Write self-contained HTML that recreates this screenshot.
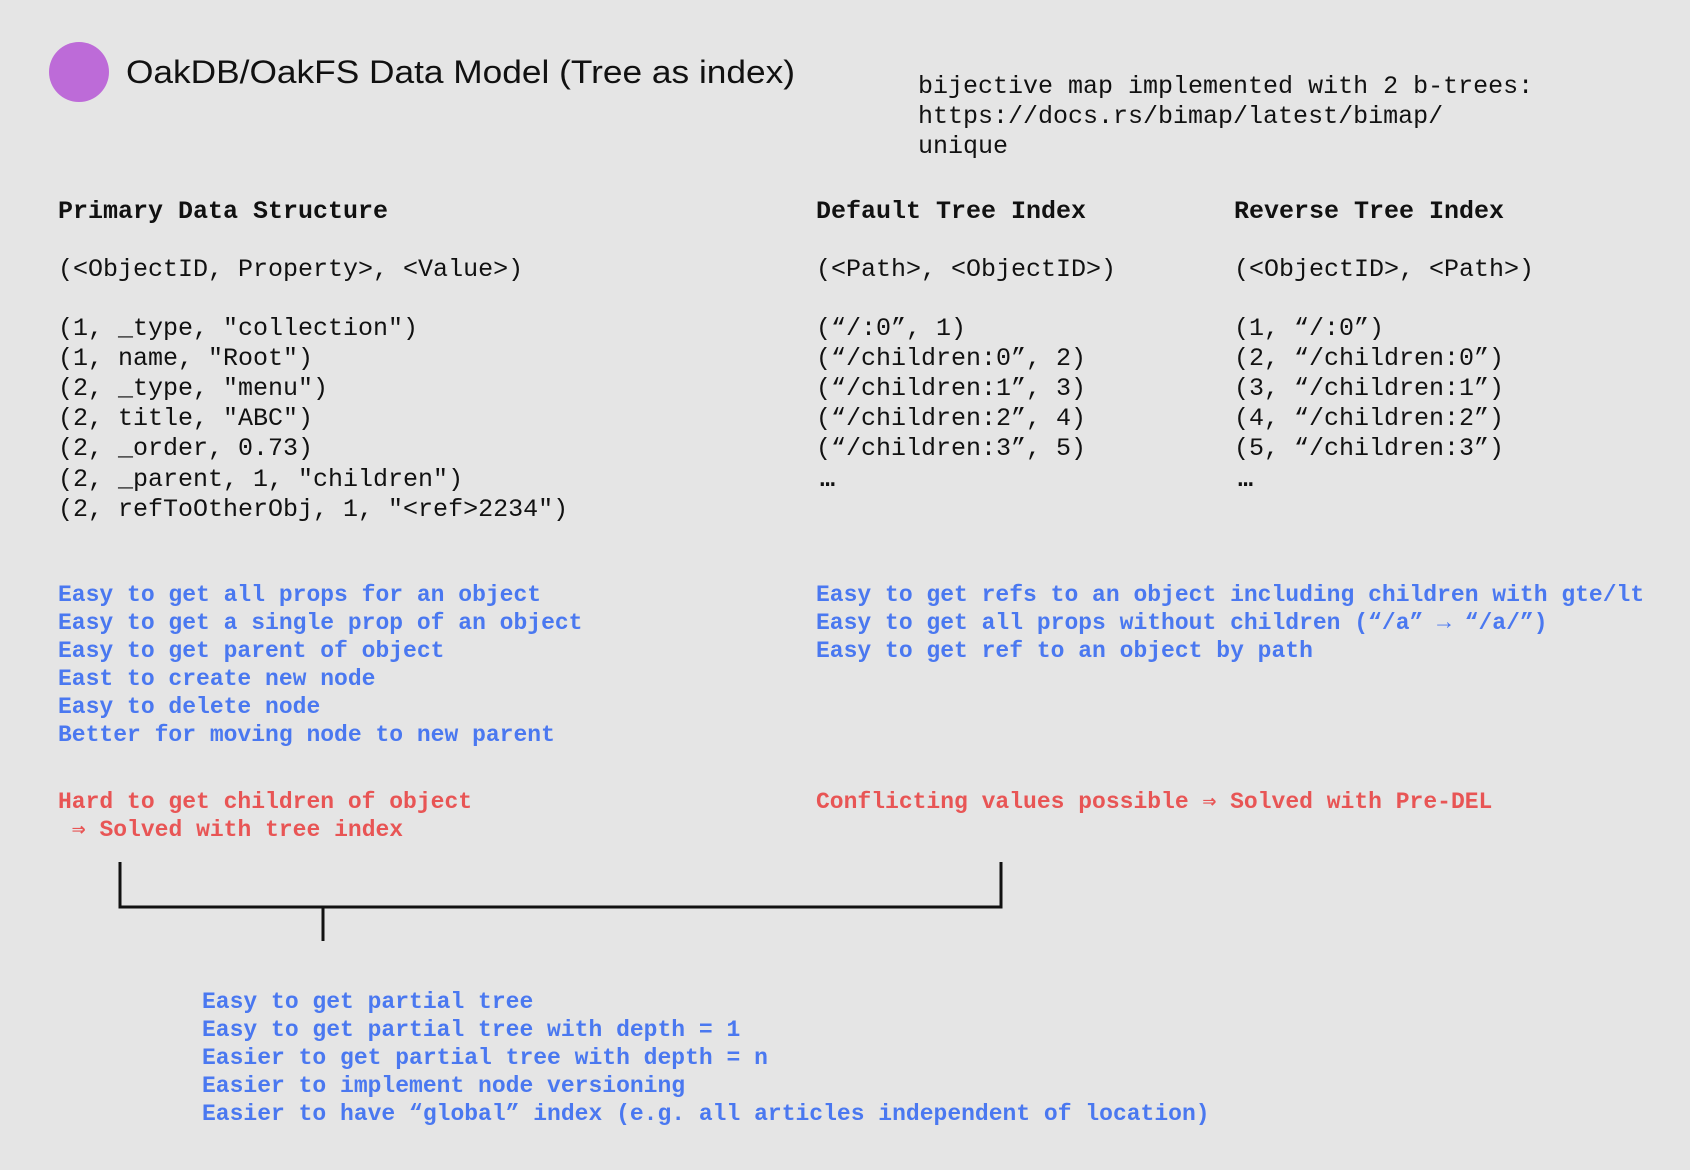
<!DOCTYPE html>
<html><head><meta charset="utf-8"><style>
html,body{margin:0;padding:0;background:#e5e5e5;}
svg{display:block}
.m{font-family:"Liberation Mono",monospace;font-size:25px;fill:#111;white-space:pre}
.h{font-weight:bold}
.b{font-family:"Liberation Mono",monospace;font-size:23px;fill:#4a78f0;font-weight:bold;white-space:pre}
.r{font-family:"Liberation Mono",monospace;font-size:23px;fill:#e85555;font-weight:bold;white-space:pre}
</style></head><body>
<svg width="1690" height="1170" xmlns="http://www.w3.org/2000/svg">
<rect width="1690" height="1170" fill="#e5e5e5"/>
<circle cx="79" cy="72" r="30" fill="#bd6bd8"/>
<text x="126" y="83" font-family="Liberation Sans, sans-serif" font-size="32" fill="#111" textLength="669" lengthAdjust="spacingAndGlyphs">OakDB/OakFS Data Model (Tree as index)</text>
<text class="m" x="918" y="93">bijective map implemented with 2 b-trees:</text>
<text class="m" x="918" y="123">https://docs.rs/bimap/latest/bimap/</text>
<text class="m" x="918" y="153">unique</text>
<text class="m h" x="58" y="218">Primary Data Structure</text>
<text class="m h" x="816" y="218">Default Tree Index</text>
<text class="m h" x="1234" y="218">Reverse Tree Index</text>
<text class="m" x="58" y="276">(&lt;ObjectID, Property&gt;, &lt;Value&gt;)</text>
<text class="m" x="816" y="276">(&lt;Path&gt;, &lt;ObjectID&gt;)</text>
<text class="m" x="1234" y="276">(&lt;ObjectID&gt;, &lt;Path&gt;)</text>
<g class="m">
<text class="m" x="58" y="335">(1, _type, "collection")</text>
<text class="m" x="58" y="365">(1, name, "Root")</text>
<text class="m" x="58" y="395">(2, _type, "menu")</text>
<text class="m" x="58" y="425">(2, title, "ABC")</text>
<text class="m" x="58" y="455">(2, _order, 0.73)</text>
<text class="m" x="58" y="486">(2, _parent, 1, "children")</text>
<text class="m" x="58" y="516">(2, refToOtherObj, 1, "&lt;ref&gt;2234")</text>
<text class="m" x="816" y="335">(“/:0”, 1)</text>
<text class="m" x="816" y="365">(“/children:0”, 2)</text>
<text class="m" x="816" y="395">(“/children:1”, 3)</text>
<text class="m" x="816" y="425">(“/children:2”, 4)</text>
<text class="m" x="816" y="455">(“/children:3”, 5)</text>
<text class="m h" x="820" y="486">…</text>
<text class="m" x="1234" y="335">(1, “/:0”)</text>
<text class="m" x="1234" y="365">(2, “/children:0”)</text>
<text class="m" x="1234" y="395">(3, “/children:1”)</text>
<text class="m" x="1234" y="425">(4, “/children:2”)</text>
<text class="m" x="1234" y="455">(5, “/children:3”)</text>
<text class="m h" x="1238" y="486">…</text>
</g>
<text class="b" x="58" y="601">Easy to get all props for an object</text>
<text class="b" x="58" y="629">Easy to get a single prop of an object</text>
<text class="b" x="58" y="657">Easy to get parent of object</text>
<text class="b" x="58" y="685">East to create new node</text>
<text class="b" x="58" y="713">Easy to delete node</text>
<text class="b" x="58" y="741">Better for moving node to new parent</text>
<text class="b" x="816" y="601">Easy to get refs to an object including children with gte/lt</text>
<text class="b" x="816" y="629">Easy to get all props without children (“/a” → “/a/”)</text>
<text class="b" x="816" y="657">Easy to get ref to an object by path</text>
<text class="r" x="58" y="808">Hard to get children of object</text>
<text class="r" x="58" y="836"> ⇒ Solved with tree index</text>
<text class="r" x="816" y="808">Conflicting values possible ⇒ Solved with Pre-DEL</text>
<path d="M120 862 V907 H1001 V862 M323 907 V941" fill="none" stroke="#111" stroke-width="3"/>
<text class="b" x="202" y="1008">Easy to get partial tree</text>
<text class="b" x="202" y="1036">Easy to get partial tree with depth = 1</text>
<text class="b" x="202" y="1064">Easier to get partial tree with depth = n</text>
<text class="b" x="202" y="1092">Easier to implement node versioning</text>
<text class="b" x="202" y="1120">Easier to have “global” index (e.g. all articles independent of location)</text>
</svg>
</body></html>
